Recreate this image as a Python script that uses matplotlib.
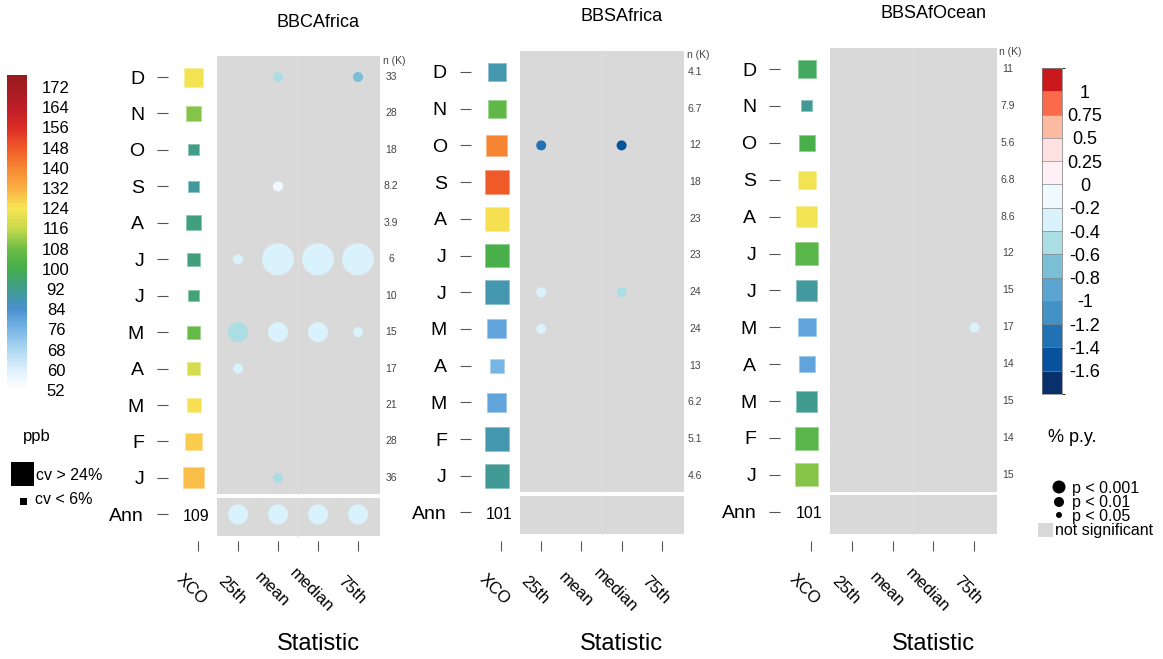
import numpy as np
import matplotlib
matplotlib.use("Agg")
import matplotlib.pyplot as plt
from matplotlib.colors import LinearSegmentedColormap, ListedColormap, BoundaryNorm, Normalize, to_rgb
from matplotlib.cm import ScalarMappable
from matplotlib.patches import Rectangle, Circle

plt.rcParams['font.family'] = ['Liberation Sans', 'DejaVu Sans']

W, H = 1163, 659
nan = np.nan

# ---------------- data ----------------
months = ["D", "N", "O", "S", "A", "J", "J", "M", "A", "M", "F", "J", "Ann"]
stat_labels = ["XCO", "25th", "mean", "median", "75th"]
regions = ["BBCAfrica", "BBSAfrica", "BBSAfOcean"]

# monthly XCO (ppb) -> square colour, coefficient of variation (%) -> square size
bbca_xco = [123, 110, 93, 90, 94, 94, 95, 106, 118, 125, 128, 130]
bbca_cv = [19.5, 15, 10.5, 10.5, 15, 12.75, 10.5, 12.75, 12.75, 13.9, 17.25, 21.75]
bbca_n = ["33", "28", "18", "8.2", "3.9", "6", "10", "15", "17", "21", "28", "36"]
bbca_ann = "109"

bbsa_xco = [88, 105, 140, 148, 125, 101, 88, 80, 76, 80, 88, 91]
bbsa_cv = [18.4, 18.4, 21.75, 25.1, 25.1, 25.1, 25.1, 19.5, 13.9, 19.5, 25.1, 25.1]
bbsa_n = ["4.1", "6.7", "12", "18", "23", "23", "24", "24", "13", "6.2", "5.1", "4.6"]
bbsa_ann = "101"

bbso_xco = [98, 91, 101, 123, 123, 104, 90, 80, 80, 92, 104, 110]
bbso_cv = [18.4, 10.5, 16.1, 18.4, 21.75, 24, 21.75, 18.4, 16.1, 21.75, 24, 24]
bbso_n = ["11", "7.9", "5.6", "6.8", "8.6", "12", "15", "17", "14", "15", "14", "15"]
bbso_ann = "101"

# trends (% per year) for 25th, mean, median, 75th; NaN = not significant
bbca_trend = [[nan, -0.5, nan, -0.7],
              [nan, nan, nan, nan],
              [nan, nan, nan, nan],
              [nan, -0.1, nan, nan],
              [nan, nan, nan, nan],
              [-0.3, -0.3, -0.3, -0.3],
              [nan, nan, nan, nan],
              [-0.5, -0.3, -0.3, -0.3],
              [-0.3, nan, nan, nan],
              [nan, nan, nan, nan],
              [nan, nan, nan, nan],
              [nan, -0.5, nan, nan],
              [-0.3, -0.3, -0.3, -0.3]]
bbca_p = [[nan, 0.05, nan, 0.05],
          [nan, nan, nan, nan],
          [nan, nan, nan, nan],
          [nan, 0.05, nan, nan],
          [nan, nan, nan, nan],
          [0.05, 0.001, 0.001, 0.001],
          [nan, nan, nan, nan],
          [0.01, 0.01, 0.01, 0.05],
          [0.05, nan, nan, nan],
          [nan, nan, nan, nan],
          [nan, nan, nan, nan],
          [nan, 0.05, nan, nan],
          [0.01, 0.01, 0.01, 0.01]]

bbsa_trend = [[nan] * 4, [nan] * 4,
              [-1.3, nan, -1.5, nan],
              [nan] * 4, [nan] * 4, [nan] * 4,
              [-0.3, nan, -0.5, nan],
              [-0.3, nan, nan, nan],
              [nan] * 4, [nan] * 4, [nan] * 4, [nan] * 4, [nan] * 4]
bbsa_p = [[nan] * 4, [nan] * 4,
          [0.05, nan, 0.05, nan],
          [nan] * 4, [nan] * 4, [nan] * 4,
          [0.05, nan, 0.05, nan],
          [0.05, nan, nan, nan],
          [nan] * 4, [nan] * 4, [nan] * 4, [nan] * 4, [nan] * 4]

bbso_trend = [[nan] * 4] * 7 + [[nan, nan, nan, -0.3]] + [[nan] * 4] * 5
bbso_p = [[nan] * 4] * 7 + [[nan, nan, nan, 0.05]] + [[nan] * 4] * 5

xco_ticks = list(range(52, 173, 8))
trend_bounds = [-1.8, -1.6, -1.4, -1.2, -1.0, -0.8, -0.6, -0.4, -0.2, 0, 0.25, 0.5, 0.75, 1.0, 1.25]
trend_ticklabels = ["-1.6", "-1.4", "-1.2", "-1", "-0.8", "-0.6", "-0.4", "-0.2", "0", "0.25", "0.5", "0.75", "1"]
p_levels = [0.001, 0.01, 0.05]
p_labels = ["p < 0.001", "p < 0.01", "p < 0.05"]

# ---------------- styles ----------------
xco_stops = [(50.8, '#FFFFFF'), (52, '#FFFFFF'), (60, '#DDEFFB'), (68, '#ADD8F2'), (76, '#77B5E5'),
             (84, '#4A90D0'), (92, '#3F9C8C'), (100, '#45AE4C'), (108, '#6DBD45'), (116, '#C8D94B'),
             (124, '#F7E553'), (128, '#F9CB4D'), (132, '#F9B043'), (140, '#F68633'), (148, '#F05A28'),
             (156, '#DC2C26'), (164, '#BE1E27'), (176.8, '#961A1E')]
vmin, vmax = 50.8, 176.8
cmap_xco = LinearSegmentedColormap.from_list(
    'xco', [((v - vmin) / (vmax - vmin), c) for v, c in xco_stops])
norm_xco = Normalize(vmin, vmax)

trend_colors = ['#08306B', '#08519C', '#2171B5', '#4292C6', '#5BA3D0', '#7BBFD6', '#ABDDE5',
                '#DAF2FB', '#F0FAFE', '#FFF0F5', '#FEE0E0', '#FCBBA1', '#FB6A4A', '#CB181D']
cmap_tr = ListedColormap(trend_colors)
norm_tr = BoundaryNorm(trend_bounds, cmap_tr.N)

GRAY = '#D9D9D9'
PX = 0.72  # points per pixel at dpi 100
psize_px = {0.05: 10, 0.01: 20, 0.001: 32}


def cv_side(cv):
    return 7 + (np.clip(cv, 6, 25.5) - 6) / 18.0 * 16


def px_rect(x, y, w, h):
    return [x / W, 1 - (y + h) / H, w / W, h / H]


fig = plt.figure(figsize=(W / 100, H / 100), dpi=100)

# overlay axis for legend keys (pixel coordinates)
lax = fig.add_axes([0, 0, 1, 1], zorder=-5)
lax.set_xlim(0, W)
lax.set_ylim(H, 0)
lax.axis('off')

geo = [dict(col0=198, dx=40.0, y0=77, dy=36.45),
       dict(col0=501, dx=40.2, y0=72, dy=36.7),
       dict(col0=811, dx=40.8, y0=69, dy=36.9)]
panels = [(bbca_xco, bbca_cv, bbca_n, bbca_ann, bbca_trend, bbca_p),
          (bbsa_xco, bbsa_cv, bbsa_n, bbsa_ann, bbsa_trend, bbsa_p),
          (bbso_xco, bbso_cv, bbso_n, bbso_ann, bbso_trend, bbso_p)]

XL, XR, YT = -0.75, 5.3, -1.3
YBOT = 541
for name, g, (xco, cv, nk, ann, trend, pv) in zip(regions, geo, panels):
    col0, dx, y0, dy = g['col0'], g['dx'], g['y0'], g['dy']
    left = col0 + XL * dx
    right = col0 + XR * dx
    top = y0 + YT * dy
    rb = (YBOT - y0) / dy
    ax = fig.add_axes(px_rect(left, top, right - left, YBOT - top))
    ax.set_xlim(XL, XR)
    ax.set_ylim(rb, YT)
    ax.patch.set_alpha(0)
    for s in ax.spines.values():
        s.set_visible(False)

    # gray panels
    gx0, gx1 = 0.47, 4.55
    ax.add_patch(Rectangle((gx0, -0.58), gx1 - gx0, 12.03, facecolor=GRAY, edgecolor='none', zorder=0))
    ax.add_patch(Rectangle((gx0, 11.54), gx1 - gx0, 1.06, facecolor=GRAY, edgecolor='none', zorder=0))
    ax.plot([2.5, 2.5], [-0.58, 11.45], color='#DDDDDD', lw=0.8, zorder=0.5)
    ax.plot([2.5, 2.5], [11.54, 12.6], color='#DDDDDD', lw=0.8, zorder=0.5)

    # y ticks (months)
    ax.set_yticks(range(len(months)))
    ax.set_yticklabels(months)
    ax.tick_params(axis='y', length=11 * PX, width=0.8, color='#555555', pad=13 * PX, labelsize=14)
    # x ticks
    ax.set_xticks(range(len(stat_labels)))
    ax.set_xticklabels([])
    ax.tick_params(axis='x', length=10 * PX, width=0.8, color='#555555')
    rlab = (590 - y0) / dy
    for i, lab in enumerate(stat_labels):
        ax.text(i - 6 / dx, rlab, lab, rotation=-45, ha='center', va='center', fontsize=12, clip_on=False)

    # XCO squares
    rows = np.arange(12)
    sides = cv_side(np.array(cv))
    base = cmap_xco(norm_xco(np.array(xco)))
    edge = [tuple(0.6 * np.array(c[:3]) + 0.4) for c in base]
    ax.scatter(np.full(12, -0.11), rows, s=(sides * PX) ** 2, c=xco, cmap=cmap_xco, norm=norm_xco,
               marker='s', edgecolors=edge, linewidths=0.6, zorder=3)
    ax.text(-0.05, 12.05, ann, ha='center', va='center', fontsize=11.5)

    # trend circles
    tr = np.array(trend, dtype=float)
    pp = np.array(pv, dtype=float)
    rr, cc = np.where(~np.isnan(tr))
    if len(rr):
        sizes = np.array([(psize_px[pp[r, c]] * PX) ** 2 for r, c in zip(rr, cc)])
        ax.scatter(cc + 1, rr, s=sizes, c=tr[rr, cc], cmap=cmap_tr, norm=norm_tr,
                   linewidths=0, zorder=3)

    # n (K) column
    nx = gx1 + 11 / dx
    for i, t in enumerate(nk):
        ax.text(nx, i, t, ha='center', va='center', fontsize=7.5, color='#444444')
    ax.text(nx + 3 / dx, -0.45, "n (K)", ha='center', va='center', fontsize=7.5, color='#444444')

    # titles
    ax.text(3.0, -1.5, name, ha='center', va='center', fontsize=13, clip_on=False)
    ax.text(3.0, (644 - y0) / dy, "Statistic", ha='center', va='center', fontsize=17, clip_on=False)

# ---------------- left colorbar (ppb) ----------------
cax1 = fig.add_axes(px_rect(7, 75, 20, 318))
cb1 = fig.colorbar(ScalarMappable(norm=norm_xco, cmap=cmap_xco), cax=cax1)
cb1.set_ticks(xco_ticks)
cb1.set_ticklabels([str(t) for t in xco_ticks])
cb1.outline.set_visible(False)
cax1.tick_params(length=0, pad=29 * PX, labelsize=12)
plt.setp(cax1.get_yticklabels(), ha='center')

lax.text(37, 437, "ppb", ha='center', va='center', fontsize=12)
lax.add_patch(Rectangle((11, 462), 23, 24, facecolor='black', edgecolor='none'))
lax.text(36, 475, "cv > 24%", ha='left', va='center', fontsize=11.5)
lax.add_patch(Rectangle((19.5, 497.5), 7, 7, facecolor='black', edgecolor='none'))
lax.text(35, 500, "cv < 6%", ha='left', va='center', fontsize=11.5)

# ---------------- right colorbar (% p.y.) ----------------
cax2 = fig.add_axes(px_rect(1042, 68, 20, 326))
cb2 = fig.colorbar(ScalarMappable(norm=norm_tr, cmap=cmap_tr), cax=cax2, boundaries=trend_bounds,
                   spacing='uniform', drawedges=True)
cb2.set_ticks(trend_bounds[1:-1])
cb2.set_ticklabels(trend_ticklabels)
cb2.outline.set_edgecolor('#777777')
cb2.outline.set_linewidth(0.5)
cb2.dividers.set_color('#888888')
cb2.dividers.set_linewidth(0.5)
cax2.tick_params(length=0, pad=23 * PX, labelsize=13)
plt.setp(cax2.get_yticklabels(), ha='center')

lax.text(1072, 437, "% p.y.", ha='center', va='center', fontsize=13)
leg_y = [487, 502, 515]
leg_d = [13, 10, 6]
for y, d, lab in zip(leg_y, leg_d, p_labels):
    lax.add_patch(Circle((1059, y), d / 2, facecolor='black', edgecolor='none'))
    lax.text(1072, y + 1, lab, ha='left', va='center', fontsize=11.5)
lax.add_patch(Rectangle((1038, 523), 15, 14, facecolor=GRAY, edgecolor='none'))
lax.text(1055, 530, "not significant", ha='left', va='center', fontsize=11.5)

fig.savefig("out.png", dpi=100)
